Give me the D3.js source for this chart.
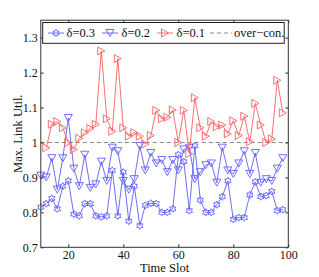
<!DOCTYPE html>
<html>
<head>
<meta charset="utf-8">
<style>
body, html { margin: 0; background: #fff; }
svg text { font-family: "Liberation Serif", "DejaVu Serif", serif; fill: #111; }
</style>
</head>
<body>
<div id="chartContainer"></div>
<script src="https://cdn.jsdelivr.net/npm/d3@7/dist/d3.min.js"></script>
<script>

// data
const slots03 = [10,12,14,16,18,20,22,24,26,28,30,32,34,36,38,40,42,44,46,48,50,52,54,56,58,60,62,64,66,68,70,72,74,76,78,80,82,84,86,88,90,92,94,96,98];
const delta03 = [0.815,0.825,0.84,0.81,0.875,0.89,0.795,0.79,0.825,0.825,0.79,0.787,0.79,0.92,0.79,0.915,0.775,0.875,0.762,0.82,0.826,0.825,0.80,0.80,0.81,0.965,0.945,0.805,0.99,0.835,0.80,0.80,0.822,0.845,0.89,0.78,0.785,0.785,0.85,0.887,0.845,0.848,0.86,0.805,0.808];
const slots02 = slots03;
const delta02 = [0.905,0.90,0.955,0.865,0.955,1.07,0.925,0.875,0.965,0.87,0.88,0.945,0.89,0.985,0.975,0.89,0.865,0.895,0.99,0.92,0.97,0.94,0.95,0.915,0.95,0.92,0.98,0.985,0.895,0.915,0.935,0.94,0.885,0.985,0.92,0.91,0.94,0.975,0.91,0.97,0.885,0.895,0.89,0.925,0.955];
const slots01 = slots03.slice(1);
const delta01 = [0.985,1.052,1.06,1.042,1.0,0.98,1.012,1.028,1.04,1.052,1.262,1.068,1.032,1.24,1.042,1.018,1.028,1.018,0.995,1.02,1.092,1.068,1.072,1.093,1.0,1.092,0.968,1.128,1.042,1.018,1.06,1.045,1.05,1.025,1.062,1.02,1.075,1.002,1.112,1.05,1.0,1.01,1.178,1.085];
const overCon = 1;
const xTicks = [20,40,60,80,100];
const yTicks = [0.7,0.8,0.9,1,1.1,1.2,1.3];
const seriesNames = ["\u03b4=0.3","\u03b4=0.2","\u03b4=0.1","over\u2212con."];

const W = 319, H = 277;
const BLUE = '#5f5fff';
const RED = '#ff5f5f';
const AXIS = '#333';
const FONT = '"Liberation Serif", serif';

var svg = d3.select("#chartContainer").append("svg").attr("width", W).attr("height", H);

var x = d3.scaleLinear().domain([10,100]).range([40.8,288.3]);
var y = d3.scaleLinear().domain([0.7,1.35]).range([247.3,20.2]);

// marker shapes
function hexagram(r) {
	var pts = [];
	for (let i=0; i<12; i++) {
		const a = -Math.PI/2 + i*Math.PI/6;
		const rr = (i%2==0) ? r : r/Math.sqrt(3);
		pts.push([rr*Math.cos(a), rr*Math.sin(a)]);
	}
	return "M" + pts.map(p => p.join(",")).join("L") + "Z";
}
const triDown = "M-4,-3.5L4,-3.5L0,3.5Z";
const triRight = "M-3.5,-4L3.5,0L-3.5,4Z";

var series = [
	{name: seriesNames[0], xs: slots03, ys: delta03, color: BLUE, marker: hexagram(3.6)},
	{name: seriesNames[1], xs: slots02, ys: delta02, color: BLUE, marker: triDown},
	{name: seriesNames[2], xs: slots01, ys: delta01, color: RED, marker: triRight}
];

var line = d3.line().x(d => x(d[0])).y(d => y(d[1]));

// over-con. line
svg.append("line")
	.attr("x1", x(10)).attr("x2", x(100))
	.attr("y1", y(overCon)).attr("y2", y(overCon))
	.style("stroke", "#8a8a8a").style("stroke-width", 1.2)
	.style("stroke-dasharray", "4,3");

var g = svg.append("g").attr("class", "series");
series.forEach(function(s) {
	var pts = s.xs.map((v,i) => [v, s.ys[i]]);
	g.append("path")
		.attr("d", line(pts))
		.style("fill", "none")
		.style("stroke", s.color)
		.style("stroke-width", 0.9);
	g.selectAll(null)
		.data(pts)
		.enter().append("path")
			.attr("d", s.marker)
			.attr("transform", d => `translate(${x(d[0])},${y(d[1])})`)
			.style("fill", "none")
			.style("stroke", s.color)
			.style("stroke-width", 0.9);
});

// axes box with inward ticks
var x0 = x.range()[0], x1 = x.range()[1], y0 = y.range()[0], y1 = y.range()[1];
svg.append("g")
	.attr("transform", `translate(0,${y0})`)
	.call(d3.axisBottom(x).tickValues(xTicks).tickSize(-3).tickPadding(3).tickFormat(d3.format("d")))
	.call(a => a.select(".domain").remove());
svg.append("g")
	.attr("transform", `translate(0,${y1})`)
	.call(d3.axisTop(x).tickValues(xTicks).tickSize(-3).tickFormat(""))
	.call(a => a.select(".domain").remove());
svg.append("g")
	.attr("transform", `translate(${x0},0)`)
	.call(d3.axisLeft(y).tickValues(yTicks).tickSize(-3).tickPadding(3).tickFormat(d => String(d)))
	.call(a => a.select(".domain").remove());
svg.append("g")
	.attr("transform", `translate(${x1},0)`)
	.call(d3.axisRight(y).tickValues(yTicks).tickSize(-3).tickFormat(""))
	.call(a => a.select(".domain").remove());
svg.selectAll(".tick line").style("stroke", AXIS);
svg.selectAll(".tick text").style("font-size", "12px").style("font-family", FONT).style("fill", "#111");
svg.append("rect")
	.attr("x", x0).attr("y", y1)
	.attr("width", x1-x0).attr("height", y0-y1)
	.style("fill", "none").style("stroke", AXIS).style("stroke-width", 1);

// axis labels
svg.append("text")
	.attr("x", (x0+x1)/2).attr("y", 271.5)
	.attr("text-anchor", "middle")
	.style("font-size", "12.5px")
	.text("Time Slot");
svg.append("text")
	.attr("transform", `translate(21.5,${(y0+y1)/2}) rotate(-90)`)
	.attr("text-anchor", "middle")
	.style("font-size", "12.5px")
	.text("Max. Link Util.");

// legend
var legend = svg.append("g").attr("class", "legend");
legend.append("rect")
	.attr("x", 42.7).attr("y", 22.5).attr("width", 241.5).attr("height", 20.8)
	.style("fill", "#fff").style("stroke", "#222").style("stroke-width", 1);
const legendY = 33;
const legendItems = [
	{x: 48, text: 66.5, s: series[0]},
	{x: 102, text: 121.5, s: series[1]},
	{x: 157, text: 176.5, s: series[2]}
];
legendItems.forEach(function(it) {
	legend.append("line")
		.attr("x1", it.x).attr("x2", it.x+16).attr("y1", legendY).attr("y2", legendY)
		.style("stroke", it.s.color).style("stroke-width", 0.9);
	legend.append("path")
		.attr("d", it.s.marker)
		.attr("transform", `translate(${it.x+8},${legendY})`)
		.style("fill", "none").style("stroke", it.s.color).style("stroke-width", 0.9);
	legend.append("text")
		.attr("x", it.text).attr("y", legendY+4.3)
		.style("font-size", "12.5px")
		.text(it.s.name);
});
legend.append("line")
	.attr("x1", 210).attr("x2", 232).attr("y1", legendY).attr("y2", legendY)
	.style("stroke", "#8a8a8a").style("stroke-width", 1.2).style("stroke-dasharray", "4,3");
legend.append("text")
	.attr("x", 234).attr("y", legendY+4.3)
	.style("font-size", "12.5px")
	.text(seriesNames[3]);

</script>
</body>
</html>
